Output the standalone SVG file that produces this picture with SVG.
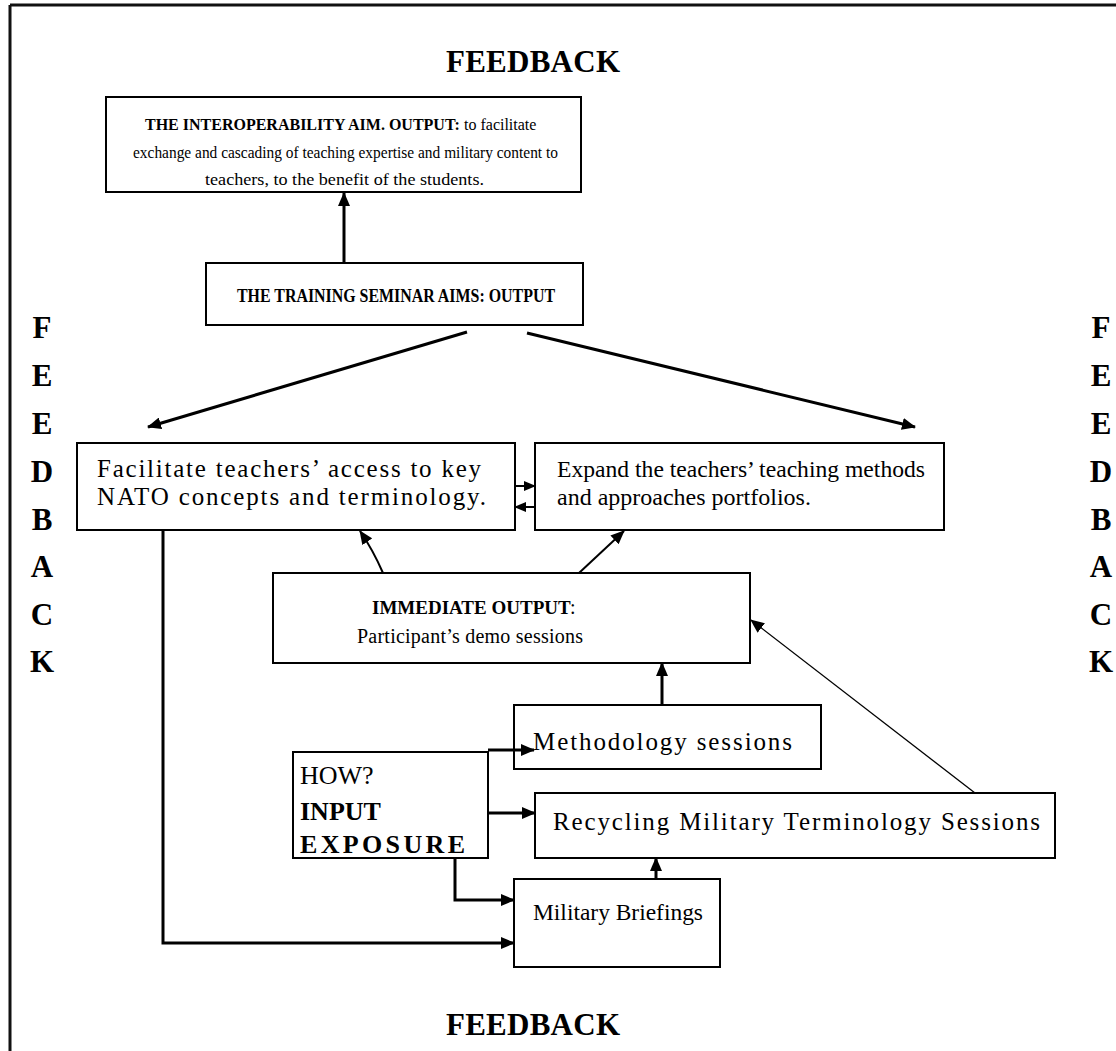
<svg xmlns="http://www.w3.org/2000/svg" width="1116" height="1051" viewBox="0 0 1116 1051">
<defs>
<style>
.t{font-family:"Liberation Serif","Times New Roman",serif;font-size:25px;fill:#000}
.s{font-size:17px}
.s16{font-size:16px}
.m{font-size:20px}
.m19{font-size:19px}
.r{font-size:24px}
.h{font-size:26px}
.b{font-weight:bold}
.fb{font-family:"Liberation Serif","Times New Roman",serif;font-size:31px;font-weight:bold;fill:#000}
.box{fill:#fff;stroke:#000;stroke-width:2}
.c{fill:none;stroke:#000;stroke-width:3}
.cm{fill:none;stroke:#000;stroke-width:2}
.cs{fill:none;stroke:#000;stroke-width:1.3}
</style>
<marker id="ah" markerUnits="userSpaceOnUse" markerWidth="14" markerHeight="12" refX="13" refY="6" orient="auto">
<path d="M0,0 L14,6 L0,12 Z" fill="#000"/>
</marker>
<marker id="as" markerUnits="userSpaceOnUse" markerWidth="12" markerHeight="10" refX="11" refY="5" orient="auto">
<path d="M0,0 L12,5 L0,10 Z" fill="#000"/>
</marker>
</defs>
<rect x="0" y="0" width="1116" height="1051" fill="#fff"/>
<g id="frame">
<line x1="10" y1="5" x2="1116" y2="5" stroke="#111" stroke-width="3"/>
<line x1="10" y1="5" x2="10" y2="1051" stroke="#111" stroke-width="3"/>
</g>
<g id="feedback-labels">
<text class="fb" x="446" y="72" textLength="174">FEEDBACK</text>
<text class="fb" x="446" y="1035" textLength="174">FEEDBACK</text>
<g text-anchor="middle">
<text class="fb" x="42" y="338">F</text>
<text class="fb" x="42" y="386">E</text>
<text class="fb" x="42" y="434">E</text>
<text class="fb" x="42" y="482">D</text>
<text class="fb" x="42" y="530">B</text>
<text class="fb" x="42" y="577">A</text>
<text class="fb" x="42" y="625">C</text>
<text class="fb" x="42" y="672">K</text>
<text class="fb" x="1101" y="338">F</text>
<text class="fb" x="1101" y="386">E</text>
<text class="fb" x="1101" y="434">E</text>
<text class="fb" x="1101" y="482">D</text>
<text class="fb" x="1101" y="530">B</text>
<text class="fb" x="1101" y="577">A</text>
<text class="fb" x="1101" y="625">C</text>
<text class="fb" x="1101" y="672">K</text>
</g>
</g>
<g id="interop-aim">
<rect class="box" x="106" y="97" width="475" height="95"/>
<text class="t s16 b" x="145" y="130">THE INTEROPERABILITY AIM. OUTPUT:</text>
<text class="t s16" x="464" y="130">to facilitate</text>
<text class="t s" x="133" y="158" textLength="425" lengthAdjust="spacingAndGlyphs">exchange and cascading of teaching expertise and military content to</text>
<text class="t s" x="205" y="185" textLength="279" lengthAdjust="spacingAndGlyphs">teachers, to the benefit of the students.</text>
</g>
<g id="training-aims">
<rect class="box" x="206" y="263" width="377" height="62"/>
<text class="t b" x="237" y="302" style="font-size:18px" textLength="318" lengthAdjust="spacingAndGlyphs">THE TRAINING SEMINAR AIMS: OUTPUT</text>
</g>
<g id="facilitate">
<rect class="box" x="77" y="443" width="438" height="87"/>
<text class="t" x="97" y="477" textLength="384">Facilitate teachers’ access to key</text>
<text class="t" x="97" y="505" textLength="389">NATO concepts and terminology.</text>
</g>
<g id="expand">
<rect class="box" x="535" y="443" width="409" height="87"/>
<text class="t r" x="557" y="477" textLength="368" lengthAdjust="spacingAndGlyphs">Expand the teachers’ teaching methods</text>
<text class="t r" x="557" y="505">and approaches portfolios.</text>
</g>
<g id="immediate-output">
<rect class="box" x="273" y="573" width="477" height="90"/>
<text class="t m19 b" x="372" y="614">IMMEDIATE OUTPUT</text>
<text class="t m" x="570" y="614">:</text>
<text class="t m" x="357" y="643" textLength="226">Participant’s demo sessions</text>
</g>
<g id="methodology">
<rect class="box" x="514" y="705" width="307" height="64"/>
<text class="t" x="533" y="750" textLength="259">Methodology sessions</text>
</g>
<g id="how-input">
<rect class="box" x="293" y="752" width="195" height="106"/>
<text class="t h" x="300" y="784">HOW?</text>
<text class="t h b" x="300" y="820">INPUT</text>
<text class="t h b" x="300" y="853" textLength="165">EXPOSURE</text>
</g>
<g id="recycling">
<rect class="box" x="535" y="793" width="520" height="65"/>
<text class="t" x="553" y="830" textLength="487">Recycling Military Terminology Sessions</text>
</g>
<g id="briefings">
<rect class="box" x="514" y="879" width="206" height="88"/>
<text class="t r" x="533" y="920" textLength="170" lengthAdjust="spacingAndGlyphs">Military Briefings</text>
</g>
<g id="connectors">
<line class="c" x1="344" y1="263" x2="344" y2="193" marker-end="url(#ah)"/>
<line class="c" x1="467" y1="332" x2="148" y2="427" marker-end="url(#ah)"/>
<line class="c" x1="527" y1="333" x2="915" y2="427" marker-end="url(#ah)"/>
<line class="cm" x1="515" y1="486" x2="535" y2="486" marker-end="url(#as)"/>
<line class="cm" x1="535" y1="507" x2="515" y2="507" marker-end="url(#as)"/>
<path class="cm" d="M383,573 Q373,550 360,531" marker-end="url(#ah)"/>
<line class="cm" x1="579" y1="573" x2="624" y2="531" marker-end="url(#ah)"/>
<line class="c" x1="662" y1="705" x2="662" y2="663" marker-end="url(#ah)"/>
<line class="cs" x1="975" y1="793" x2="751" y2="620" marker-end="url(#ah)"/>
<path class="c" d="M488,750 H534" marker-end="url(#ah)"/>
<path class="c" d="M488,813 H535" marker-end="url(#ah)"/>
<path class="c" d="M455,858 V900 H514" marker-end="url(#ah)"/>
<path class="c" d="M163,530 V943 H514" marker-end="url(#ah)"/>
<line class="c" x1="656" y1="879" x2="656" y2="858" marker-end="url(#ah)"/>
</g>
</svg>
